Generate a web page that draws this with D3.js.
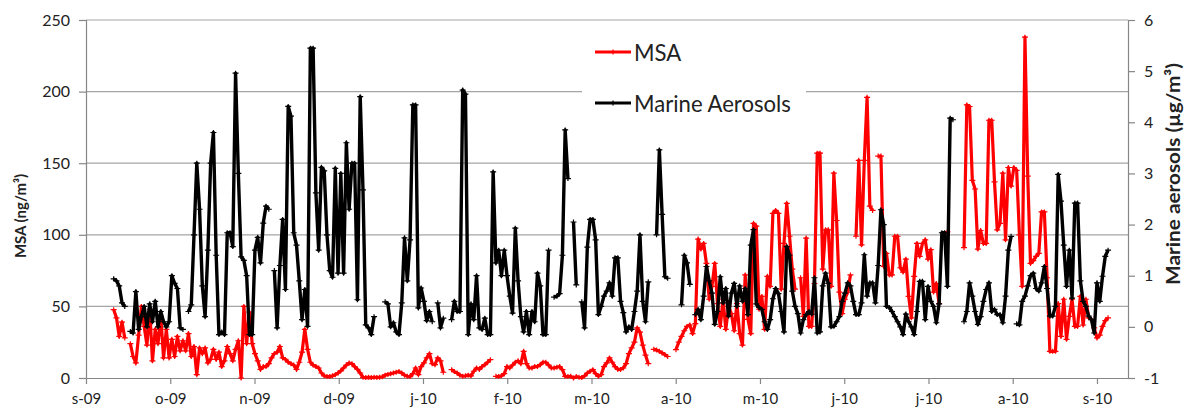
<!DOCTYPE html>
<html>
<head>
<meta charset="utf-8">
<script src="https://cdn.jsdelivr.net/npm/d3@7"></script>
<style>
  html, body { margin: 0; padding: 0; background: #fff; }
  svg { display: block; }
  text { font-family: Lato, "Open Sans", sans-serif; fill: #222; }
</style>
</head>
<body>
<svg id="chart" width="1184" height="410"></svg>
<script>
// ---------------- data ----------------
// daily samples; first value is day 10 after 1 Sep 2009 (11 Sep 2009)
const startDay = 10;
const monthLabels = ["s-09","o-09","n-09","d-09","j-10","f-10","m-10","a-10","m-10","j-10","j-10","a-10","s-10"];
const msaTicks = [0, 50, 100, 150, 200, 250];
const marineTicks = [-1, 0, 1, 2, 3, 4, 5, 6];
const seriesNames = ["MSA", "Marine Aerosols"];

// MSA (ng/m3), left axis
const msa = [
  47.7, 42, 29, 39, 28, null, 24, 15, 10.5, 30,
  50, 36, 23, 48, 12, 34, 24, 43, 14, 34,
  14, 27, 15, 29, 19, 26, 19, 31, 15, 22,
  2.3, 21, 17, 21, 10.5, 13, 20, 13, 18, 8,
  12, 22, 17, 12, 20, 26, 0, 50, 24, 46,
  24, 17, 12, 6, 8, 8, 10, 14, 17, 18,
  22, 14, 13, 11, 10, 9, 6, 11, 18, 34,
  20, 11, 9, 8, 7, 3.5, 1.5, 1, 1, 1.5,
  2.3, 3.5, 5, 7, 9, 10.5, 10, 8, 6, 3.5,
  0.5, 0.3, 0.5, 0.3, 0.5, 0.4, 0.5, 0.8, 2, 2.5,
  3, 3.5, 4, 4.5, 3.5, 2, 1.2, 1, 3, 7,
  2.3, 8, 10.5, 14, 17, 10, 9.3, 14, 12, 4,
  null, null, 5.8, 4.5, 3.5, 2, 1.2, 1.5, 2, 1.5,
  4.7, 7, 6, 8, 9.3, 11, 12.8, null, 1.2, 1,
  1.5, 3, 8, 7, 9, 11, 12, 10, 18.6, 10,
  7, 7, 8, 8, 9.3, 11, 11, 9, 7, 7,
  7.5, 8, 5.8, 1.2, 1, 1.2, 0, 1, 0.5, 0.3,
  1.5, 3.5, 4.7, 5.8, 3, 1.2, 2.3, 8, 10.5, 14,
  11, 8, 6, 6, 7, 10, 17, 21, 25, 35,
  32, 23, 16, 10, null, 20, 19.5, 18.6, 17.5, 16.3,
  15, null, null, 19.8, 25, 29, 33, 36, 37, 31,
  38, 97, 90, 94, 80, 55, 64, 80, 52, 36,
  55, 34, 50, 45, 33, 52, 31, 23, 72, 41,
  31, 108, 106, 48, 57, 34, 71, 64, 115, 117,
  115, 62, 94, 122, 99, 76, 62, null, 70, 43,
  97.7, 36, 36, 66, 157, 157, 76, 103.5, 103.5, 64,
  143, 110, 60, 45, 55, 60, 72, null, 99, 152,
  93, 152, 196, 120, 117, null, 155, 155, 78, 87,
  72, 72, 99, 99, 77, 74, 83, 57, 42, 71,
  94, 85, 94, 96.5, 83, 89.6, 60, 66, 52, null,
  101, 102, null, null, null, null, null, 91, 190.7, 189.6,
  138, 132, 90, 103, 94, 94, 180, 180, 137, 103.5,
  108, 143, 96.5, 147, 134, 147, 145, 100, 64, 238,
  141, 80, 82, 85, 87, 116, 116, 70, 18.6, 18.6,
  18.6, 52, 29, 55, 27, 43, 55, 36, 36, 57,
  37, 55, 42, 41, 35, 28, 30, 36, 40, 42
];

// Marine aerosols (ug/m3), right axis
const marine = [
  0.94, 0.9, 0.8, 0.47, 0.4, null, -0.09, -0.12, 0.69, -0.05,
  0.2, 0.4, 0.0, 0.45, 0.1, 0.5, 0.0, 0.3, 0.1, 0.0,
  0.1, 1.0, 0.85, 0.75, -0.02, -0.05, null, 0.3, 0.43, 1.8,
  3.2, 2.3, 0.8, 0.2, 1.5, 3.2, 3.8, 1.4, -0.15, -0.1,
  -0.15, 1.84, 1.84, 1.57, 4.96, 3.0, 1.37, 1.3, 1.0, -0.15,
  -0.15, 1.5, 1.75, 1.25, 2.03, 2.36, 2.3, null, 1.1, -0.02,
  1.2, 2.1, 0.73, 4.31, 4.12, 1.84, 1.6, 0.9, 0.14, 0.73,
  0.01, 5.45, 5.45, 2.62, 1.5, 3.12, 3.05, 1.8, 1.1, 0.97,
  3.1, 1.05, 3.0, 1.05, 3.6, 2.3, 3.2, 3.2, 0.53, 4.5,
  2.68, 0.04, -0.02, -0.15, 0.2, null, null, null, 0.49, 0.45,
  0.0, 0.08, -0.1, -0.15, 0.47, 1.74, 0.9, 1.7, 4.34, 4.34,
  0.37, 0.76, 0.5, 0.12, 0.3, 0.1, null, 0.47, -0.02, 0.17,
  null, null, 0.14, 0.5, 0.3, 0.3, 4.63, 4.55, -0.15, 0.45,
  0.14, 1.0, -0.02, -0.05, 0.17, -0.15, -0.15, 3.03, 1.25, 1.5,
  1.0, 1.5, 1.0, 0.6, 0.27, 1.93, 0.9, 0.2, -0.1, 0.3,
  -0.15, 0.3, 0.1, 1.05, 0.8, -0.15, -0.15, 1.5, null, 0.58,
  0.6, 0.65, 1.4, 3.85, 2.9, null, 2.05, 0.82, null, 0.49,
  -0.02, 1.56, 2.1, 2.1, 1.7, 0.24, 0.4, 0.6, 0.7, 0.86,
  0.6, 1.35, 1.35, 0.5, 0.28, -0.1, 0.0, -0.05, 0.3, 0.7,
  1.8, 0.5, 0.1, 0.88, null, null, 1.8, 3.46, 2.2, 0.98,
  0.95, null, null, null, null, 0.43, 1.4, 1.25, 0.83, null,
  0.24, 0.34, 0.14, 0.6, 1.18, 0.9, 0.66, 0.05, 0.3, 0.98,
  0.47, 0.75, 0.21, 0.66, 0.85, 0.4, 0.8, 0.5, 0.75, 0.24,
  1.6, 1.9, 0.45, 0.38, 0.34, 0.1, -0.05, 0.14, 0.55, 0.75,
  0.65, 0.3, -0.1, 1.57, 1.4, 0.7, 0.4, 0.26, -0.12, 0.14,
  0.24, 0.3, 0.25, 0.96, -0.12, -0.1, 0.8, 1.05, 0.85, 0.0,
  0.01, 0.1, 0.2, 0.5, 0.66, 0.86, 0.8, 0.5, 0.24, 0.24,
  0.47, 1.41, 0.6, 0.86, 0.86, 0.47, 1.2, 2.29, 2.0, 0.4,
  0.38, 0.3, 0.2, 0.1, 0.0, -0.15, 0.25, 0.1, 0.0, -0.15,
  0.3, 0.89, 0.89, 0.14, 0.79, 0.5, 0.4, 0.08, 0.45, 1.84,
  1.84, 0.79, 4.08, 4.05, null, null, null, 0.1, 0.3, 0.86,
  0.6, 0.3, 0.05, 0.2, 0.5, 0.73, 0.86, 0.3, 0.34, 0.24,
  0.24, 0.08, 0.6, 1.5, 1.77, null, 0.06, 0.04, 0.5, 0.6,
  0.8, 1.0, 1.05, 0.75, 0.7, 0.86, 1.18, 0.75, 0.21, 0.21,
  0.4, 2.98, 2.46, 1.6, 0.79, 1.5, 0.56, 2.42, 2.42, 0.9,
  0.5, 0.4, 0.21, 0.14, -0.12, 0.86, 0.5, 0.99, 1.38, 1.5
];

// ---------------- chart ----------------
const W = 1184, H = 410;
const m = { left: 86, right: 1128, top: 20, bottom: 378 };
const daysPerMonth = 365 / 12;
const svg = d3.select("#chart");
svg.append("rect").attr("width", W).attr("height", H).attr("fill", "#fff");

const x = d3.scaleLinear().domain([0, 376.2]).range([m.left, m.right]);
const yL = d3.scaleLinear().domain([0, 250]).range([m.bottom, m.top]);
const yR = d3.scaleLinear().domain([-1, 6]).range([m.bottom, m.top]);

const axisColor = "#868686";
const gridColor = "#a5a5a5";

// gridlines
svg.append("g").selectAll("line").data(msaTicks.filter(t => t > 0)).join("line")
  .attr("x1", m.left).attr("x2", m.right)
  .attr("y1", d => yL(d)).attr("y2", d => yL(d))
  .attr("stroke", gridColor).attr("stroke-width", 1.2);

// axes
function styleAxis(g, size) {
  g.select(".domain").attr("stroke", axisColor).attr("stroke-width", 1.2);
  g.selectAll(".tick line").attr("stroke", axisColor).attr("stroke-width", 1.2);
  g.selectAll(".tick text").attr("fill", "#262626").style("font-size", size + "px")
    .style("font-family", "Lato, 'Open Sans', sans-serif");
}
const gL = svg.append("g").attr("transform", `translate(${m.left},0)`)
  .call(d3.axisLeft(yL).tickValues(msaTicks).tickFormat(d3.format("d"))
    .tickSizeOuter(0).tickSize(7).tickPadding(9));
styleAxis(gL, 16);
const gR = svg.append("g").attr("transform", `translate(${m.right},0)`)
  .call(d3.axisRight(yR).tickValues(marineTicks).tickFormat(d => d < 0 ? "-" + Math.abs(d) : String(d))
    .tickSizeOuter(0).tickSize(7).tickPadding(9));
styleAxis(gR, 16);
const monthTicks = monthLabels.map((_, i) => i * daysPerMonth);
const gB = svg.append("g").attr("transform", `translate(0,${m.bottom})`)
  .call(d3.axisBottom(x).tickValues(monthTicks).tickFormat((d, i) => monthLabels[i])
    .tickSizeOuter(0).tickSize(6).tickPadding(9));
styleAxis(gB, 15);
gB.select(".domain").attr("d", `M${m.left},0.5H${m.right}`);

// series
const msaData = msa.map((v, i) => ({ d: startDay + i, v }));
const marineData = marine.map((v, i) => ({ d: startDay + i, v }));

function drawSeries(data, yScale, color, width) {
  const line = d3.line().defined(p => p.v !== null)
    .x(p => x(p.d)).y(p => yScale(p.v));
  const g = svg.append("g");
  g.append("path").datum(data).attr("d", line)
    .attr("fill", "none").attr("stroke", color).attr("stroke-width", width)
    .attr("stroke-linejoin", "round").attr("stroke-linecap", "butt");
  g.selectAll("path.mk").data(data.filter(p => p.v !== null)).join("path")
    .attr("class", "mk")
    .attr("d", p => `M${x(p.d) - 3},${yScale(p.v)}H${x(p.d) + 3}M${x(p.d)},${yScale(p.v) - 2.5}V${yScale(p.v) + 2.5}`)
    .attr("stroke", color).attr("stroke-width", 1.2);
}
drawSeries(msaData, yL, "#ff0000", 3.2);
drawSeries(marineData, yR, "#000000", 3.4);

// legend
svg.append("rect").attr("x", 582).attr("y", 28).attr("width", 224).attr("height", 95).attr("fill", "#fff");
const legend = [
  { name: seriesNames[0], color: "#ff0000", y: 52 },
  { name: seriesNames[1], color: "#000000", y: 103 }
];
const lg = svg.append("g");
legend.forEach(l => {
  lg.append("line").attr("x1", 595).attr("x2", 631).attr("y1", l.y).attr("y2", l.y)
    .attr("stroke", l.color).attr("stroke-width", 3.2);
  lg.append("path").attr("d", `M610,${l.y}H616M613,${l.y - 2.5}V${l.y + 2.5}`)
    .attr("stroke", l.color).attr("stroke-width", 1.2);
  lg.append("text").attr("class", "lgt").attr("x", 634).attr("y", l.y)
    .attr("dominant-baseline", "central").style("font-size", "20px").text(l.name);
});
const lgTexts = lg.selectAll("text.lgt");
const longW = lgTexts.nodes()[1].getComputedTextLength();
lgTexts.style("font-size", (20 * 157 / longW) + "px");

// axis titles (rotated, baseline on the right-hand side of the glyphs)
function title(txt, bx, cy, size, targetLen) {
  const t = svg.append("text").attr("transform", `translate(${bx},${cy}) rotate(-90)`)
    .attr("text-anchor", "middle")
    .style("font-weight", "bold").style("font-size", size + "px").text(txt);
  const w = t.node().getComputedTextLength();
  if (Math.abs(w - targetLen) > 2) {
    t.attr("textLength", targetLen).attr("lengthAdjust", "spacingAndGlyphs");
  }
}
title("MSA (ng/m\u00b3)", 26, 216, 14.5, 84);
title("Marine aerosols (\u00b5g/m\u00b3)", 1180, 174, 18.5, 222);
</script>
</body>
</html>
